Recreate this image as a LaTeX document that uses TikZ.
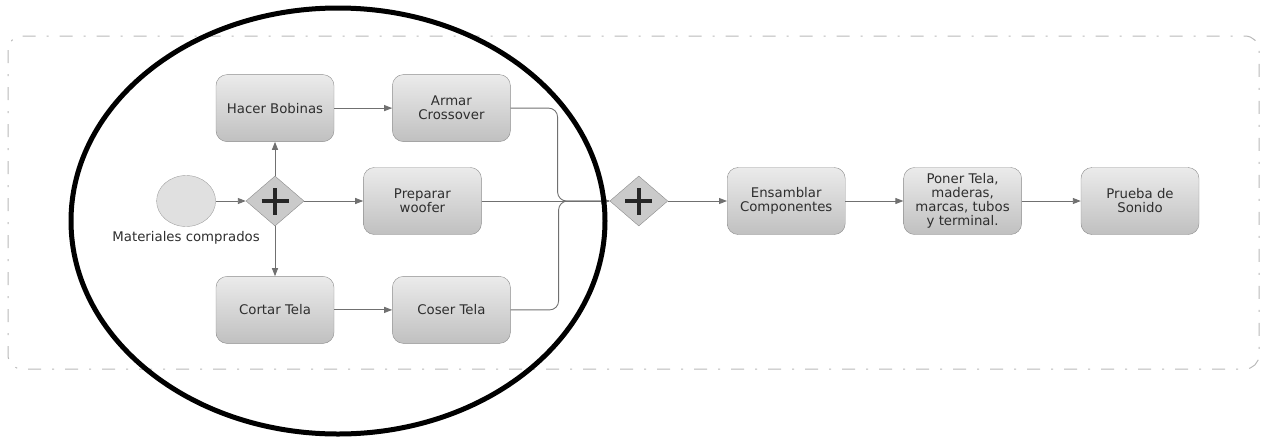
\documentclass[tikz,border=0pt]{standalone}
\usepackage{fontspec}
\setmainfont{DejaVu Sans}
\usetikzlibrary{positioning,shapes.geometric,arrows.meta}

\definecolor{boxline}{HTML}{8C8C8C}
\definecolor{boxtop}{HTML}{EBEBEB}
\definecolor{boxbot}{HTML}{C0C0C0}
\definecolor{flowline}{HTML}{707070}
\definecolor{txt}{HTML}{2E2E2E}
\definecolor{gatefill}{HTML}{CACACA}

\tikzset{
  task/.style={draw=boxline, rounded corners=11pt, top color=boxtop, bottom color=boxbot,
    minimum width=118pt, minimum height=67pt, inner sep=2pt, align=center, text=txt,
    font=\fontsize{13.3}{14}\selectfont},
  gate/.style={diamond, draw=boxline, fill=gatefill, minimum width=58pt, minimum height=50pt, inner sep=0pt},
  startev/.style={ellipse, draw=boxline!80, fill=boxtop!90!gray, minimum width=59pt, minimum height=51pt},
  flow/.style={draw=flowline, line width=0.9pt, ->},
  plus/.style={line width=4.5pt, black!85},
  frame/.style={draw=gray!55, line width=1pt, rounded corners=14pt,
    dash pattern=on 13pt off 11pt on 2pt off 11pt}
}

\begin{document}
\begin{tikzpicture}[x=1pt, y=-1pt, >={Triangle[length=8pt,width=6pt]}, node distance=58pt]
  \useasboundingbox (0,0) rectangle (1261,437);
  \draw[frame] (8,36) rectangle (1259,369);

  \node[gate] (gw1) at (275,201) {};
  \node[startev, left=30pt of gw1] (start) {};
  \node[below=1pt of start, text=txt, font=\fontsize{13.3}{14}\selectfont] (startlbl) {Materiales comprados};
  \node[task, above=34pt of gw1] (hacer) {Hacer Bobinas};
  \node[task, right=of hacer] (armar) {Armar\\Crossover};
  \node[task, right=59pt of gw1] (prep) {Preparar\\woofer};
  \node[task, below=50pt of gw1] (cortar) {Cortar Tela};
  \node[task, right=of cortar] (coser) {Coser Tela};
  \node[gate, right=128pt of prep] (gw2) {};
  \node[task, right=59pt of gw2] (ensam) {Ensamblar\\Componentes};
  \node[task, right=of ensam] (poner) {Poner Tela,\\maderas,\\marcas, tubos\\y terminal.};
  \node[task, right=59pt of poner] (prueba) {Prueba de\\Sonido};

  \foreach \g in {gw1,gw2} {
    \draw[plus] ([xshift=-13.5pt]\g.center) -- ([xshift=13.5pt]\g.center);
    \draw[plus] ([yshift=-13.5pt]\g.center) -- ([yshift=13.5pt]\g.center);
  }

  \draw[flow] (start) -- (gw1);
  \draw[flow] (gw1) -- (hacer);
  \draw[flow] (gw1) -- (cortar);
  \draw[flow] (gw1) -- (prep);
  \draw[flow] (hacer) -- (armar);
  \draw[flow] (cortar) -- (coser);
  \draw[flow, rounded corners=9pt] (armar.east) -- ++(47,0) |- (gw2.west);
  \draw[flow, rounded corners=9pt] (coser.east) -- ++(48,0) |- (gw2.west);
  \draw[flow] (prep) -- (gw2);
  \draw[flow] (gw2) -- (ensam);
  \draw[flow] (ensam) -- (poner);
  \draw[flow] (poner) -- (prueba);

  \draw[line width=5pt] (338,221) ellipse [x radius=267, y radius=213];
\end{tikzpicture}
\end{document}
